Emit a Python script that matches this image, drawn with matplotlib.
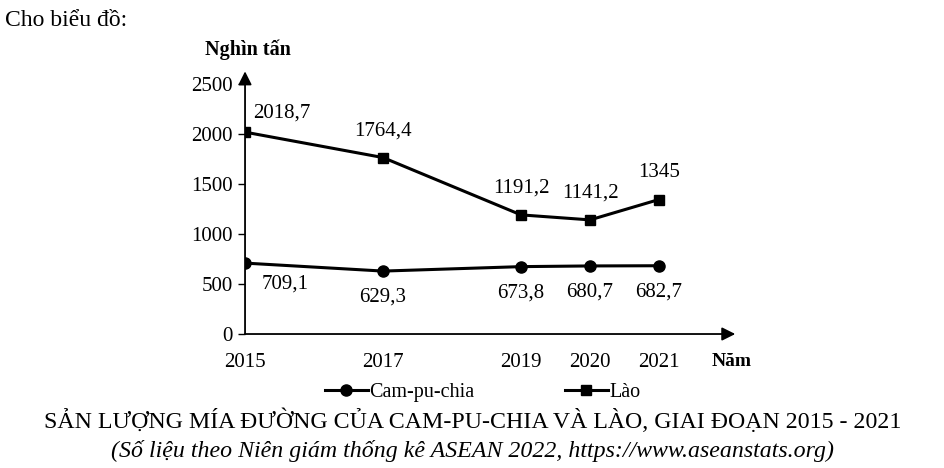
import matplotlib.pyplot as plt

plt.rcParams['font.family'] = ['Liberation Serif', 'DejaVu Serif']

years = [2015, 2017, 2019, 2020, 2021]
campuchia = [709.1, 629.3, 673.8, 680.7, 682.7]
lao = [2018.7, 1764.4, 1191.2, 1141.2, 1345]
yticks = [0, 500, 1000, 1500, 2000, 2500]

def fmt(v):
    s = ('%.1f' % v).replace('.', ',')
    return s[:-2] if s.endswith(',0') else s

fig = plt.figure(figsize=(9.45, 4.68), dpi=100)
ax = fig.add_axes([0.2593, 0.2863, 0.5111, 0.5449])

ax.plot(years, campuchia, color='black', lw=2.2, marker='o', ms=8, label='Cam-pu-chia')
ax.plot(years, lao, color='black', lw=2.2, marker='s', ms=7, label='Lào')

ax.set_xlim(2015, 2022)
ax.set_ylim(0, 2550)
for s in ax.spines.values():
    s.set_visible(False)
ax.annotate('', xy=(1.015, 0), xytext=(0, 0), xycoords='axes fraction',
            arrowprops=dict(arrowstyle='-|>', color='black', lw=1.3, mutation_scale=20,
                            shrinkA=0, shrinkB=0))
ax.annotate('', xy=(0, 1.03), xytext=(0, 0), xycoords='axes fraction',
            arrowprops=dict(arrowstyle='-|>', color='black', lw=1.3, mutation_scale=20,
                            shrinkA=0, shrinkB=0))

ax.set_yticks(yticks)
ax.set_xticks(years)
ax.tick_params(axis='y', length=5, width=1, labelsize=15, pad=4)
ax.tick_params(axis='x', length=0, labelsize=15, pad=14)

# nhãn Lào (phía trên)
for i, (x, v) in enumerate(zip(years, lao)):
    if i == 0:
        ax.annotate(fmt(v), (x, v), xytext=(8, 19), textcoords='offset pixels',
                    ha='left', va='center', fontsize=15)
    else:
        ax.annotate(fmt(v), (x, v), xytext=(0, 27), textcoords='offset pixels',
                    ha='center', va='center', fontsize=15)

# nhãn Cam-pu-chia (phía dưới)
for i, (x, v) in enumerate(zip(years, campuchia)):
    dx = 40 if i == 0 else 0
    dy = -21 if i == 0 else -26
    ax.annotate(fmt(v), (x, v), xytext=(dx, dy), textcoords='offset pixels',
                ha='center', va='center', fontsize=15)

fig.text(248 / 945, 1 - 50 / 468, 'Nghìn tấn', ha='center', va='center',
         fontsize=14.5, fontweight='bold')
fig.text(732 / 945, 1 - 361 / 468, 'Năm', ha='center', va='center',
         fontsize=14, fontweight='bold')
fig.text(5 / 945, 1 - 20 / 468, 'Cho biểu đồ:', ha='left', va='center', fontsize=17)

fig.legend(loc='center', bbox_to_anchor=(483 / 945, 1 - 392 / 468), ncol=2,
           frameon=False, fontsize=14.5, columnspacing=4.5, handlelength=2.1,
           handletextpad=0.1)

fig.text(0.5, 1 - 421 / 468,
         'SẢN LƯỢNG MÍA ĐƯỜNG CỦA CAM-PU-CHIA VÀ LÀO, GIAI ĐOẠN 2015 - 2021',
         ha='center', va='center', fontsize=17.2)
fig.text(0.5, 1 - 451 / 468,
         '(Số liệu theo Niên giám thống kê ASEAN 2022, https://www.aseanstats.org)',
         ha='center', va='center', fontsize=17.2, style='italic')

fig.savefig('out.png', dpi=100)
